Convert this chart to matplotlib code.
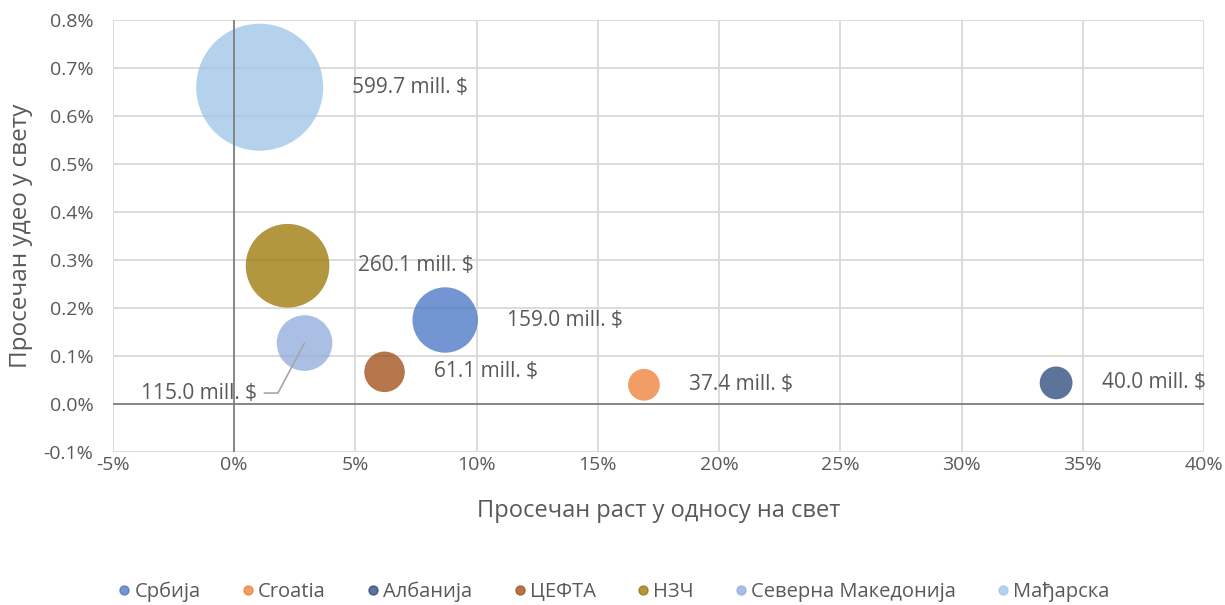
import numpy as np
import matplotlib
matplotlib.use('Agg')
import matplotlib.pyplot as plt

plt.rcParams['font.family'] = ['Open Sans', 'DejaVu Sans']

names = ['Србија', 'Croatia', 'Албанија', 'ЦЕФТА', 'НЗЧ', 'Северна Македонија', 'Мађарска']
growth = [8.7, 16.9, 33.9, 6.2, 2.2, 2.9, 1.05]        # %
share = [0.175, 0.040, 0.044, 0.067, 0.288, 0.127, 0.660]  # %
value = [159.0, 37.4, 40.0, 61.1, 260.1, 115.0, 599.7]   # mill. $
colors = ['#4472C4', '#ED7D31', '#264478', '#9E480E', '#997300', '#8FAADC', '#9DC3E6']

xticks = np.arange(-5, 41, 5)
yticks = np.arange(-0.1, 0.81, 0.1)

txt = '#595959'
dpi = 100
fig = plt.figure(figsize=(12.25, 6.05), dpi=dpi)
ax = fig.add_axes([113/1225, 1-452/605, (1204-113)/1225, (452-20)/605])

# bubble size: area proportional to value, biggest ~127 px across
max_d_px = 127
d_px = [max_d_px*np.sqrt(v/max(value)) for v in value]
sizes = [(d*72/dpi)**2 for d in d_px]

for n, x, y, s, c in zip(names, growth, share, sizes, colors):
    ax.scatter(x, y, s=s, color=c, alpha=0.75, edgecolors='none', zorder=3, label=n)

# labels right of bubbles
for n, x, y, d, v in zip(names, growth, share, d_px, value):
    lab = '%.1f mill. $' % v
    if n == 'Северна Македонија':
        ax.annotate(lab, xy=(x, y), xytext=(-34, -36), textcoords='offset points',
                    ha='right', va='center', fontsize=15, color=txt,
                    arrowprops=dict(arrowstyle='-', color='#A6A6A6', lw=1.2,
                                    shrinkA=3, shrinkB=0,
                                    connectionstyle='angle,angleA=0,angleB=62'),
                    zorder=5)
    else:
        off = (d/2 + 29)*72/dpi
        ax.annotate(lab, xy=(x, y), xytext=(off, 0), textcoords='offset points',
                    ha='left', va='center', fontsize=15, color=txt, zorder=5)

ax.set_xlim(-5, 40)
ax.set_ylim(-0.1, 0.8)
ax.set_xticks(xticks)
ax.set_yticks(yticks)
ax.set_xticklabels(['%d%%' % t for t in xticks])
ax.set_yticklabels(['%.1f%%' % t for t in yticks])
ax.grid(True, color='#D9D9D9', lw=1.3, zorder=0)
ax.set_axisbelow(True)
for sp in ax.spines.values():
    sp.set_visible(False)
ax.axhline(0, color='#7F7F7F', lw=1.3, zorder=4)
ax.axvline(0, color='#7F7F7F', lw=1.3, zorder=4)
ax.tick_params(length=0, labelsize=14, colors=txt)
ax.tick_params(axis='x', pad=3)
ax.tick_params(axis='y', pad=14)

ax.set_xlabel('Просечан раст у односу на свет', fontsize=17, color=txt, labelpad=18)
ax.set_ylabel('Просечан удео у свету', fontsize=17.5, color=txt, labelpad=8)

handles = [plt.Line2D([], [], marker='o', ls='none', ms=6.5, color=c, alpha=0.75) for c in colors]
fig.legend(handles, names, loc='center', bbox_to_anchor=(0.5, 1-592/605), ncol=7,
           frameon=False, fontsize=14.5, labelcolor=txt, handletextpad=0.05,
           columnspacing=1.9, handlelength=0.9)

fig.savefig('out.png', dpi=dpi)
